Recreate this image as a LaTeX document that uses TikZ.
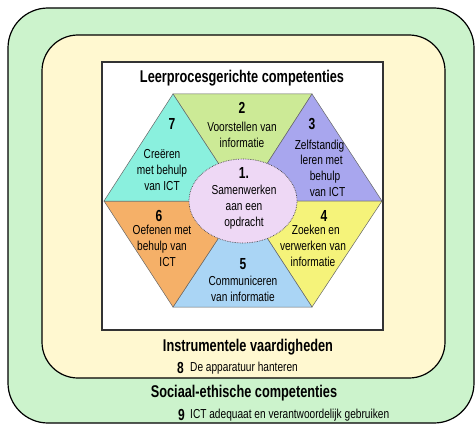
\documentclass[tikz,border=0pt]{standalone}
\usepackage{fontspec}
\setmainfont{Liberation Sans}
\newfontfamily\bodyfont[FakeStretch=0.78]{Liberation Sans}
\newfontfamily\headfont[FakeStretch=0.75]{Liberation Sans Bold}
\usetikzlibrary{shapes.geometric}
\definecolor{outergreen}{RGB}{204,243,204}
\definecolor{cream}{RGB}{255,248,208}
\definecolor{tgreen}{RGB}{204,234,150}
\definecolor{tpurple}{RGB}{168,166,238}
\definecolor{tyellow}{RGB}{245,243,122}
\definecolor{tblue}{RGB}{170,213,245}
\definecolor{torange}{RGB}{245,176,104}
\definecolor{tcyan}{RGB}{138,240,222}
\definecolor{tpink}{RGB}{238,216,245}
\tikzstyle{frame} = [draw=black, line width=1.2pt, rounded corners=40pt]
\tikzstyle{tri} = [draw=gray!80!black, line width=0.5pt]
\tikzstyle{num} = [font=\headfont\fontsize{16}{16}\selectfont, inner sep=0pt]
\tikzstyle{txt} = [font=\bodyfont\fontsize{13}{15.7}\selectfont, align=center, inner sep=0pt]
\tikzstyle{head} = [font=\headfont\fontsize{17}{17}\selectfont, inner sep=0pt]

\begin{document}
\begin{tikzpicture}[x=1pt, y=-1pt]
\useasboundingbox (0,0) rectangle (476,425);
% frames
\draw [frame, fill=outergreen] (8,8) rectangle (474,423);
\draw [frame, fill=cream, rounded corners=36pt] (42,35) rectangle (445,378);
\draw [fill=white, draw=black!80, line width=1.2pt] (102,62) rectangle (383,330);

% hexagon corners
\coordinate (c) at (243,201);
\coordinate (A) at (173,94);
\coordinate (B) at (312,94);
\coordinate (C) at (382,201);
\coordinate (D) at (312,307);
\coordinate (E) at (173,307);
\coordinate (F) at (104,201);

\draw [tri, fill=tgreen] (A) -- (B) -- (c) -- cycle;
\draw [tri, fill=tpurple] (B) -- (C) -- (c) -- cycle;
\draw [tri, fill=tyellow] (C) -- (D) -- (c) -- cycle;
\draw [tri, fill=tblue] (D) -- (E) -- (c) -- cycle;
\draw [tri, fill=torange] (E) -- (F) -- (c) -- cycle;
\draw [tri, fill=tcyan] (F) -- (A) -- (c) -- cycle;
\node (centre) [ellipse, draw=black!75, densely dotted, line width=0.7pt, fill=tpink, minimum width=108pt, minimum height=84pt] at (c) {};

\node (title) [head] at (242,78) {Leerprocesgerichte competenties};

\node (n2) [num] at (242,108) {2};
\node (t2) [txt] at (242,135) {Voorstellen van\\informatie};
\node (n3) [num] at (312,124) {3};
\node (t3) [txt, align=left] at (320,168) {Zelfstandig\\\ \ leren met\\\hspace{15pt}behulp\\\hspace{15pt}van ICT};
\node (n4) [num] at (324,216) {4};
\node (t4) [txt] at (313,246) {\ \ Zoeken en\\verwerken van\\informatie};
\node (n5) [num] at (243,264) {5};
\node (t5) [txt] at (243,289) {Communiceren\\van informatie};
\node (n6) [num] at (159,216) {6};
\node (t6) [txt] at (162,246) {Oefenen met\\behulp van\\\ \ \ \ ICT};
\node (n7) [num] at (172,124) {7};
\node (t7) [txt] at (162,170) {Creëren\\met behulp\\van ICT};
\node (n1) [num] at (244,173) {1.};
\node (t1) [txt] at (244,207) {Samenwerken\\aan een\\opdracht};

\node (instr) [head] at (248,347) {Instrumentele vaardigheden};
\node (n8) [num, anchor=west] at (177,368) {8};
\node (t8) [txt, anchor=west] at (190,368) {De apparatuur hanteren};
\node (sociaal) [head] at (244,393) {Sociaal-ethische competenties};
\node (n9) [num, anchor=west] at (178,415) {9};
\node (t9) [txt, anchor=west] at (190,415) {ICT adequaat en verantwoordelijk gebruiken};
\end{tikzpicture}
\end{document}
